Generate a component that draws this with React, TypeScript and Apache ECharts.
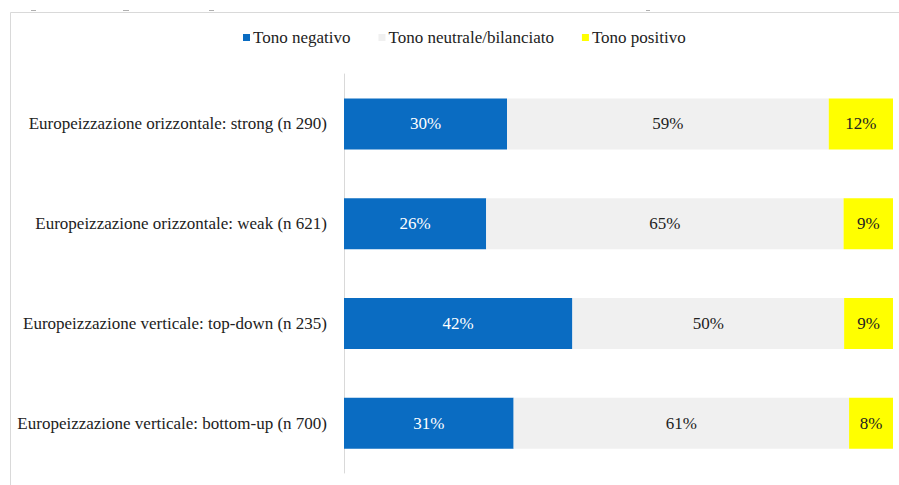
import React, { useEffect, useRef } from "react";
import * as echarts from "echarts";

const categories = [
  "Europeizzazione orizzontale: strong (n 290)",
  "Europeizzazione orizzontale: weak (n 621)",
  "Europeizzazione verticale: top-down (n 235)",
  "Europeizzazione verticale: bottom-up (n 700)",
];
const seriesNames = ["Tono negativo", "Tono neutrale/bilanciato", "Tono positivo"];
const negativo = [29.7, 25.9, 41.6, 30.9];
const neutrale = [58.6, 65.1, 49.5, 61.1];
const positivo = [11.7, 9.0, 8.9, 8.0];

const FONT = "Liberation Serif, Times New Roman, serif";

export default function App() {
  const ref = useRef<HTMLDivElement>(null);
  useEffect(() => {
    if (!ref.current) return;
    const chart = echarts.init(ref.current, null, { renderer: "svg" });
    const fmt = (p: any) => Math.round(p.value) + "%";
    const mk = (name: string, data: number[], color: string, labelColor: string) => ({
      name,
      type: "bar",
      stack: "total",
      data,
      barWidth: 51,
      itemStyle: { color },
      label: {
        show: true,
        position: "inside",
        formatter: fmt,
        color: labelColor,
        fontSize: 17,
        fontFamily: FONT,
      },
    });
    const dash = (x1: number, x2: number) => ({
      type: "line",
      shape: { x1, y1: 10.5, x2, y2: 10.5 },
      style: { stroke: "#b0b0b0", lineWidth: 1 },
      silent: true,
    });
    chart.setOption({
      animation: false,
      backgroundColor: "#ffffff",
      textStyle: { fontFamily: FONT },
      graphic: [
        {
          type: "rect",
          shape: { x: 10.5, y: 12.5, width: 900, height: 490 },
          style: { fill: "none", stroke: "#d9d9d9", lineWidth: 1 },
          silent: true,
        },
        dash(31, 36),
        dash(123, 129),
        dash(209, 214),
        dash(646, 650),
      ],
      legend: {
        data: seriesNames,
        left: 243,
        top: 29,
        padding: 0,
        itemWidth: 7,
        itemHeight: 7,
        itemGap: 28,
        icon: "rect",
        textStyle: { fontSize: 17, fontFamily: FONT, color: "#222", padding: [0, 0, 0, -2] },
      },
      grid: { left: 344, right: 6, top: 74, bottom: 12, containLabel: false },
      xAxis: { type: "value", min: 0, max: 100, show: false },
      yAxis: {
        type: "category",
        inverse: true,
        data: categories,
        axisLine: { show: true, lineStyle: { color: "#d9d9d9", width: 1 } },
        axisTick: { show: false },
        axisLabel: { fontSize: 17, fontFamily: FONT, color: "#222", margin: 17 },
      },
      series: [
        mk(seriesNames[0], negativo, "#0A6CC2", "#ffffff"),
        mk(seriesNames[1], neutrale, "#F0F0F0", "#222"),
        mk(seriesNames[2], positivo, "#FFFF00", "#222"),
      ],
    });
    return () => chart.dispose();
  }, []);
  return (
    <div
      ref={ref}
      style={{ position: "fixed", left: 0, top: 0, width: 899, height: 485, background: "#fff" }}
    />
  );
}
